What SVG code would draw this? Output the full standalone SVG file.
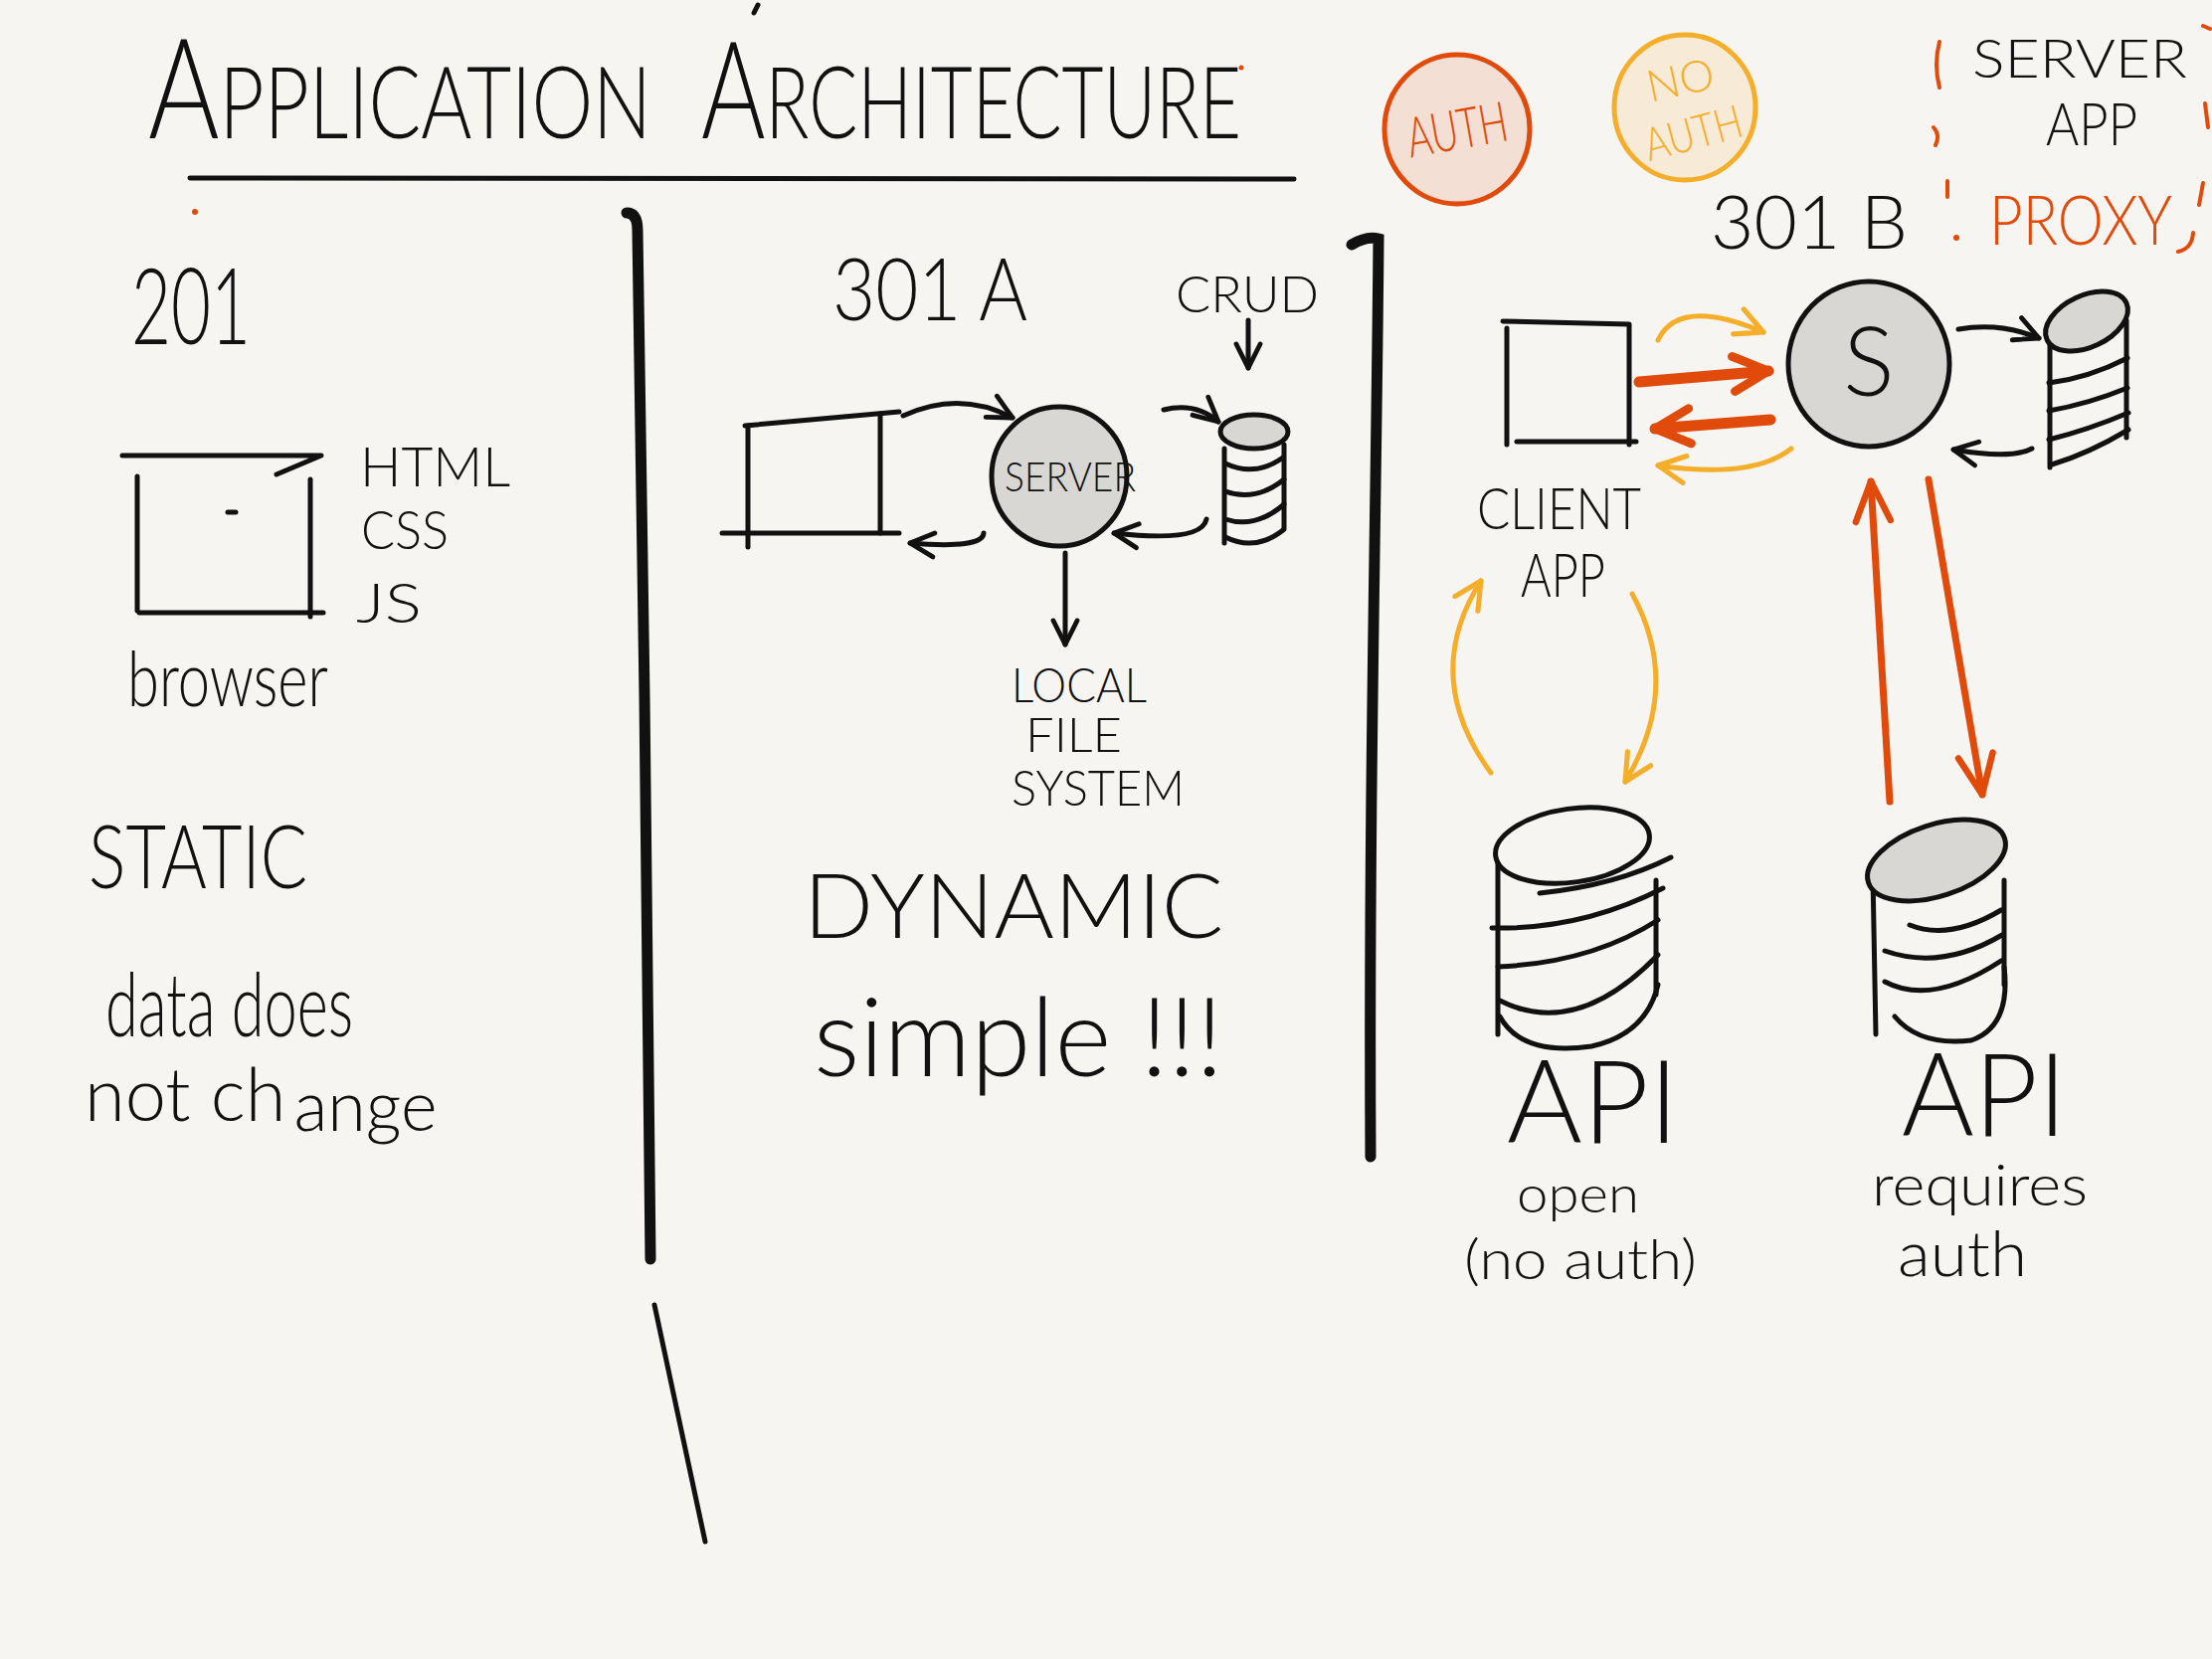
<svg xmlns="http://www.w3.org/2000/svg" width="2224" height="1668" viewBox="0 0 2224 1668">
<style>
.ln{fill:none;stroke:#111;stroke-width:5;stroke-linecap:round;stroke-linejoin:round}
.thk{fill:none;stroke:#111;stroke-width:11;stroke-linecap:round}
.gray{fill:#d8d7d3;stroke:#111;stroke-width:5}
.bgf{fill:none;stroke:#111;stroke-width:5}
.t{font-family:"Lato","Open Sans","Liberation Sans",sans-serif;font-weight:300;fill:#111}
.or{fill:#e04a0a}
.ye{fill:#f5ae2a}
.cO{fill:none;stroke:#e04a0a;stroke-linecap:round;stroke-linejoin:round}
.cY{fill:none;stroke:#f5ae2a;stroke-width:5;stroke-linecap:round;stroke-linejoin:round}
.cK{fill:none;stroke:#111;stroke-width:5;stroke-linecap:round;stroke-linejoin:round}
</style>
<defs>
<marker id="arrK" viewBox="0 0 10 10" refX="9" refY="5" markerUnits="userSpaceOnUse" markerWidth="30" markerHeight="30" orient="auto" overflow="visible"><path d="M1,1 L9,5 L1,9" fill="none" stroke="#111" stroke-width="1.6" stroke-linecap="round" stroke-linejoin="round"/></marker>
<marker id="arrY" viewBox="0 0 10 10" refX="9" refY="5" markerUnits="userSpaceOnUse" markerWidth="34" markerHeight="34" orient="auto" overflow="visible"><path d="M1,1 L9,5 L1,9" fill="none" stroke="#f5ae2a" stroke-width="1.5" stroke-linecap="round" stroke-linejoin="round"/></marker>
<marker id="arrO" viewBox="0 0 10 10" refX="9" refY="5" markerUnits="userSpaceOnUse" markerWidth="44" markerHeight="44" orient="auto" overflow="visible"><path d="M1,1 L9,5 L1,9" fill="none" stroke="#e04a0a" stroke-width="2" stroke-linecap="round" stroke-linejoin="round"/></marker>
<marker id="arrO2" viewBox="0 0 10 10" refX="9" refY="5" markerUnits="userSpaceOnUse" markerWidth="50" markerHeight="50" orient="auto" overflow="visible"><path d="M1,1.5 L9,5 L1,8.5" fill="none" stroke="#e04a0a" stroke-width="1.3" stroke-linecap="round" stroke-linejoin="round"/></marker>
</defs>
<rect width="2224" height="1668" fill="#f6f5f1"/>

<g id="title">
<text class="t" x="149" y="139" font-size="100" textLength="506" lengthAdjust="spacingAndGlyphs"><tspan font-size="140">A</tspan>PPLICATION</text>
<text class="t" x="705" y="139" font-size="100" textLength="543" lengthAdjust="spacingAndGlyphs"><tspan font-size="136">A</tspan>RCHITECTURE</text>
<path class="ln" d="M191 179 L1301 180" stroke-width="6"/>
<path class="ln" d="M762 5 L758 13" stroke-width="3"/>
<circle cx="1248" cy="68" r="2.5" fill="#e04a0a"/>
<circle cx="196" cy="213" r="3" fill="#e04a0a"/>
</g>

<g id="dividers">
<path class="thk" d="M630 214 Q641 214 641 232 L648 700 L654 1266"/>
<path class="ln" d="M658 1312 L709 1550" stroke-width="3.5"/>
<path class="thk" d="M1359 246 Q1374 237 1386 240 C1384 500 1376 800 1378 1163"/>
</g>

<g id="s201">
<text class="t" x="132" y="346" font-size="106" textLength="120" lengthAdjust="spacingAndGlyphs">201</text>
<g id="browser201">
<path class="ln" d="M123 458 L323 458 L278 477"/>
<path class="ln" d="M138 479 L138 614"/>
<path class="ln" d="M312 482 L312 620"/>
<path class="ln" d="M140 616 L325 616"/>
<path class="ln" d="M229 515 L237 515"/>
</g>
<text class="t" x="362" y="489" font-size="56" textLength="151" lengthAdjust="spacingAndGlyphs">HTML</text>
<text class="t" x="363" y="552" font-size="54" textLength="88" lengthAdjust="spacingAndGlyphs">CSS</text>
<text class="t" x="358" y="626" font-size="56" textLength="66" lengthAdjust="spacingAndGlyphs">JS</text>
<text class="t" x="128" y="710" font-size="76" textLength="202" lengthAdjust="spacingAndGlyphs">browser</text>
<text class="t" x="89" y="893" font-size="88" textLength="220" lengthAdjust="spacingAndGlyphs">STATIC</text>
<text class="t" x="106" y="1042" font-size="88" textLength="249" lengthAdjust="spacingAndGlyphs">data does</text>
<text class="t" x="85" y="1127" font-size="74">not ch<tspan dx="8" dy="10" font-size="70">ange</tspan></text>
</g>

<g id="s301a">
<text class="t" x="837" y="322" font-size="86" textLength="196" lengthAdjust="spacingAndGlyphs">301 A</text>
<text class="t" x="1182" y="314" font-size="52" textLength="144" lengthAdjust="spacingAndGlyphs">CRUD</text>
<g id="client301a">
<path class="ln" d="M749 428 L904 414"/>
<path class="ln" d="M752 428 L752 550"/>
<path class="ln" d="M885 416 L885 536"/>
<path class="ln" d="M726 536 L904 536"/>
</g>
<g id="server301a">
<ellipse class="gray" cx="1065" cy="479" rx="68" ry="70"/>
<text class="t" x="1010" y="494" font-size="42" textLength="132" lengthAdjust="spacingAndGlyphs">SERVER</text>
</g>
<g id="db301a">
<path class="ln" d="M1231 451 L1231 546 M1291 447 L1291 532"/>
<path class="ln" d="M1232 466 Q1262 480 1290 460 M1232 494 Q1262 505 1291 482 M1232 522 Q1262 532 1291 507 M1232 540 Q1262 555 1290 533"/>
<ellipse class="gray" cx="1261" cy="434" rx="34" ry="17"/>
</g>
<text class="t" x="1017" y="706" font-size="48" textLength="136" lengthAdjust="spacingAndGlyphs">LOCAL</text>
<text class="t" x="1031" y="756" font-size="48" textLength="97" lengthAdjust="spacingAndGlyphs">FILE</text>
<text class="t" x="1017" y="810" font-size="50" textLength="174" lengthAdjust="spacingAndGlyphs">SYSTEM</text>
<text class="t" x="808" y="943" font-size="90" textLength="422" lengthAdjust="spacingAndGlyphs">DYNAMIC</text>
<text class="t" x="818" y="1082" font-size="110" textLength="412" lengthAdjust="spacingAndGlyphs">simple !!!</text>
</g>

<g id="s301b">
<text class="t" x="1720" y="250" font-size="74" textLength="198" lengthAdjust="spacingAndGlyphs">301 B</text>
<g id="auth">
<ellipse cx="1465" cy="130" rx="73" ry="75" fill="#f3dfd4" stroke="#e04a0a" stroke-width="5"/>
<text class="t or" x="1465" y="150" font-size="56" font-weight="400" text-anchor="middle" transform="rotate(-10 1465 130)" textLength="102" lengthAdjust="spacingAndGlyphs">AUTH</text>
</g>
<g id="noauth">
<ellipse cx="1694" cy="108" rx="71" ry="73" fill="#f7ead6" stroke="#f5ae2a" stroke-width="5"/>
<text class="t ye" x="1690" y="96" font-size="44" font-weight="400" text-anchor="middle" transform="rotate(-12 1690 82)">NO</text>
<text class="t ye" x="1702" y="150" font-size="46" font-weight="400" text-anchor="middle" transform="rotate(-15 1702 132)" textLength="100" lengthAdjust="spacingAndGlyphs">AUTH</text>
</g>
<g id="proxy">
<path class="cO" stroke-width="4" d="M1950 42 Q1944 65 1950 88 M1944 128 Q1951 136 1946 146 M1958 182 L1958 198 M2215 26 L2222 29 M2217 104 L2220 128 M2215 184 L2211 206 M2205 234 Q2204 250 2190 253"/>
<circle cx="1967" cy="239" r="3" fill="#e04a0a"/>
<text class="t" x="1983" y="78" font-size="54" textLength="216" lengthAdjust="spacingAndGlyphs">SERVER</text>
<text class="t" x="2057" y="146" font-size="60" textLength="92" lengthAdjust="spacingAndGlyphs">APP</text>
<text class="t or" x="2000" y="246" font-size="68" font-weight="400" textLength="184" lengthAdjust="spacingAndGlyphs">PROXY</text>
</g>
<g id="client301b">
<path class="ln" d="M1511 323 L1638 326 M1515 330 L1515 447 M1638 326 L1638 447 M1525 444 L1645 444"/>
<text class="t" x="1485" y="532" font-size="58" textLength="165" lengthAdjust="spacingAndGlyphs">CLIENT</text>
<text class="t" x="1529" y="600" font-size="62" textLength="85" lengthAdjust="spacingAndGlyphs">APP</text>
</g>
<g id="server301b">
<ellipse class="gray" cx="1879" cy="366" rx="81" ry="83"/>
<text class="t" x="1879" y="398" font-size="96" text-anchor="middle">S</text>
</g>
<g id="db301b">
<path class="ln" d="M2061 345 L2061 470 M2138 322 L2138 440"/>
<path class="ln" d="M2060 385 Q2100 380 2139 360 M2060 413 Q2100 406 2139 390 M2060 442 Q2100 432 2140 415 M2063 467 Q2100 456 2140 432"/>
<ellipse class="gray" cx="2098" cy="323" rx="44" ry="26" transform="rotate(-25 2098 323)"/>
</g>
<g id="apiOpen">
<path class="ln" d="M1506 868 L1506 1040 M1665 885 L1665 1000"/>
<path class="ln" d="M1548 898 Q1625 890 1680 862 M1500 933 Q1590 935 1672 893 M1506 972 Q1600 968 1667 925 M1508 1006 Q1585 1045 1667 960 M1508 1022 Q1530 1062 1600 1052 Q1655 1040 1667 990"/>
<ellipse class="bgf" cx="1581" cy="850" rx="78" ry="37" transform="rotate(-8 1581 850)"/>
<text class="t" x="1515" y="1149" font-size="116" textLength="173" lengthAdjust="spacingAndGlyphs">API</text>
<text class="t" x="1525" y="1219" font-size="52" textLength="123" lengthAdjust="spacingAndGlyphs">open</text>
<text class="t" x="1472" y="1286" font-size="56" textLength="234" lengthAdjust="spacingAndGlyphs">(no auth)</text>
</g>
<g id="apiAuth">
<path class="ln" d="M1883 880 L1886 1040 M2015 885 L2015 990"/>
<path class="ln" d="M1920 930 Q1960 946 2012 915 M1895 956 Q1952 976 2013 940 M1895 987 Q1942 1012 2012 966 M1905 1022 Q1930 1052 1982 1046 Q2022 1032 2015 972"/>
<ellipse class="gray" cx="1947" cy="865" rx="72" ry="36" transform="rotate(-18 1947 865)"/>
<text class="t" x="1912" y="1142" font-size="116" textLength="166" lengthAdjust="spacingAndGlyphs">API</text>
<text class="t" x="1882" y="1212" font-size="58" textLength="217" lengthAdjust="spacingAndGlyphs">requires</text>
<text class="t" x="1908" y="1283" font-size="64" textLength="130" lengthAdjust="spacingAndGlyphs">auth</text>
</g>
</g>

<g id="connectors">
<path class="cK" d="M908 418 Q965 392 1018 420" marker-end="url(#arrK)"/>
<path class="cK" d="M989 536 Q988 552 915 546" marker-end="url(#arrK)"/>
<path class="cK" d="M1170 412 Q1202 404 1225 424" marker-end="url(#arrK)"/>
<path class="cK" d="M1213 522 Q1208 546 1120 536" marker-end="url(#arrK)"/>
<path class="cK" d="M1071 556 L1071 648" marker-end="url(#arrK)"/>
<path class="cK" d="M1255 322 L1255 370" marker-end="url(#arrK)"/>
<path class="cY" d="M1667 342 Q1688 298 1773 334" marker-end="url(#arrY)"/>
<path class="cO" stroke-width="11" d="M1648 384 L1778 373" marker-end="url(#arrO)"/>
<path class="cO" stroke-width="11" d="M1780 422 L1664 431" marker-end="url(#arrO)"/>
<path class="cY" d="M1801 451 Q1762 482 1667 468" marker-end="url(#arrY)"/>
<path class="cK" d="M1969 331 Q2012 324 2050 340" marker-end="url(#arrK)"/>
<path class="cK" d="M2043 451 Q2022 462 1964 452" marker-end="url(#arrK)"/>
<path class="cY" d="M1499 777 Q1428 680 1489 584" marker-end="url(#arrY)"/>
<path class="cY" d="M1641 597 Q1692 690 1634 786" marker-end="url(#arrY)"/>
<path class="cO" stroke-width="7" d="M1900 806 L1881 484" marker-end="url(#arrO2)"/>
<path class="cO" stroke-width="7" d="M1939 482 L1993 799" marker-end="url(#arrO2)"/>
</g>
</svg>
